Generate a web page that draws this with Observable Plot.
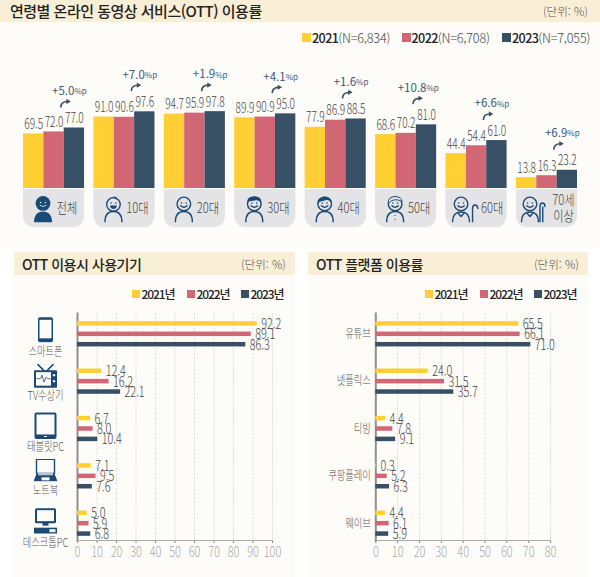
<!DOCTYPE html>
<html lang="ko"><head><meta charset="utf-8">
<script src="https://cdn.jsdelivr.net/npm/d3@7"></script>
<script src="https://cdn.jsdelivr.net/npm/@observablehq/plot@0.6"></script>
<style>
html,body{margin:0;padding:0;background:#fff}
#page{position:relative;width:600px;height:577px;overflow:hidden;font-family:"Noto Sans CJK KR","Noto Sans",sans-serif;color:#222}
.abs{position:absolute;white-space:nowrap}
.panel{background:#fdfcf8}
.band{background:#f9eed6}
.title{font-weight:500;letter-spacing:-.5px;line-height:22px}
.unit{font-size:11.5px;font-weight:300;color:#555;line-height:22px;letter-spacing:0}
.sq{position:absolute}
.lg{line-height:16px;letter-spacing:-.6px;font-weight:500}
.lg span{font-weight:300;color:#444;letter-spacing:-.2px}
svg{position:absolute;left:0;top:0;background:transparent}
</style></head><body><div id="page"></div>
<script>
// ---------- data ----------
const years = ["2021", "2022", "2023"];
const yearColors = ["#ffcf33", "#d16674", "#385065"];
const sampleSizes = ["N=6,834", "N=6,708", "N=7,055"];

const ageGroups = ["전체", "10대", "20대", "30대", "40대", "50대", "60대", "70세\n이상"];
const age2021 = [69.5, 91.0, 94.7, 89.9, 77.9, 68.6, 44.4, 13.8];
const age2022 = [72.0, 90.6, 95.9, 90.9, 86.9, 70.2, 54.4, 16.3];
const age2023 = [77.0, 97.6, 97.8, 95.0, 88.5, 81.0, 61.0, 23.2];
const ageChange = ["+5.0", "+7.0", "+1.9", "+4.1", "+1.6", "+10.8", "+6.6", "+6.9"];

const devices = ["스마트폰", "TV수상기", "태블릿PC", "노트북", "데스크톱PC"];
const device2021 = [92.2, 12.4, 6.7, 7.1, 5.0];
const device2022 = [89.1, 16.2, 8.0, 9.5, 5.9];
const device2023 = [86.3, 22.1, 10.4, 7.6, 6.8];

const platforms = ["유튜브", "넷플릭스", "티빙", "쿠팡플레이", "웨이브"];
const platform2021 = [65.5, 24.0, 4.4, 0.3, 4.4];
const platform2022 = [66.1, 31.5, 7.8, 5.2, 6.1];
const platform2023 = [71.0, 35.7, 9.1, 6.3, 5.9];

// ---------- helpers ----------
const FONT = '"Noto Sans CJK KR","Noto Sans",sans-serif';
const page = document.getElementById("page");
const fmt = d3.format(".1f");
function box(cls, l, t, w, h, html, extra) {
  const e = document.createElement("div");
  e.className = "abs " + cls;
  e.style.cssText = `left:${l}px;top:${t}px;` + (w ? `width:${w}px;` : "") + (h ? `height:${h}px;` : "") + (extra || "");
  if (html) e.innerHTML = html;
  page.appendChild(e);
  return e;
}
// Condensed lettering: the reference's typeface is narrower than any installed font.
function condense(svg, cls, ratio) {
  svg.querySelectorAll(`.${cls} text`).forEach(t => {
    const parts = t.querySelectorAll("tspan");
    (parts.length ? [...parts] : [t]).forEach(el => {
      el.setAttribute("textLength", (el.getComputedTextLength() * ratio).toFixed(2));
      el.setAttribute("lengthAdjust", "spacingAndGlyphs");
    });
  });
}
const uri = (w, h, body) => "data:image/svg+xml," + encodeURIComponent(
  `<svg xmlns="http://www.w3.org/2000/svg" viewBox="0 0 ${w} ${h}" width="${w*4}" height="${h*4}">${body}</svg>`);
const ink = "#1b4a76";
const S = `fill="none" stroke="${ink}" stroke-width="1.4" stroke-linecap="round" stroke-linejoin="round"`;
const torso = `<path d="M1.5 26.5C1.5 19.5 5 16 10 16S18.5 19.5 18.5 26.5" ${S}/>`;
const face = `<circle cx="10" cy="8.5" r="6.8" ${S}/><circle cx="7.6" cy="7.6" r=".8" fill="${ink}"/><circle cx="12.4" cy="7.6" r=".8" fill="${ink}"/><path d="M6.8 10.3Q10 13.2 13.2 10.3" ${S}/>`;
const elder = `<path d="M1.5 26.5C1.5 19.5 5 16.5 10 16.5S18.5 19.5 18.5 26.5M6.5 17L10 21L13.5 17" ${S}/>${face}`;
const personIcons = {
  "전체": uri(20, 27, `<path d="M1 27C1 19.5 4.5 16 10 16S19 19.5 19 27Z" fill="${ink}"/><circle cx="10" cy="8" r="7.4" fill="${ink}"/><circle cx="7.6" cy="7" r=".8" fill="#cfe"/><circle cx="12.4" cy="7" r=".8" fill="#cfe"/><path d="M6.8 9.8Q10 12.4 13.2 9.8" fill="none" stroke="#cfe" stroke-width=".8"/>`),
  "10대": uri(20, 27, torso + `<circle cx="10" cy="9" r="6.8" ${S}/><path d="M10 2.2Q12.5 1 12.5 3.4" ${S}/><circle cx="7.6" cy="7.6" r=".8" fill="${ink}"/><circle cx="12.4" cy="7.6" r=".8" fill="${ink}"/><path d="M6.5 10H13.5Q13 13.5 10 13.5T6.5 10Z" fill="${ink}"/>`),
  "20대": uri(20, 27, torso + face),
  "30대": uri(20, 27, torso + face + `<path d="M3 8C2.5 2 6 1 10 1S17.5 2 17 8C15.5 5 13 4.5 10.5 5C8 5.5 5 5 3 8Z" fill="${ink}"/>`),
  "40대": uri(20, 27, torso + face + `<path d="M3 9C2 3 6 1.2 10 1.2S18 3 17 9C16 5 13 3.5 9 5.2C6 6 4 6 3 9Z" fill="${ink}"/>`),
  "50대": uri(20, 27, torso + face + `<path d="M3.2 8C2.5 3 6 1.2 10 1.2S17 3 16.8 6.5C14 3.8 7 3 3.2 8Z" fill="#e4e4e6" stroke="${ink}" stroke-width="1"/><circle cx="10" cy="20" r=".6" fill="${ink}"/><circle cx="10" cy="24" r=".6" fill="${ink}"/>`),
  "60대": uri(28, 27, elder + `<path d="M21.5 26.5V13Q21.5 9.5 24 9.5T26.8 13" ${S}/>`),
  "70세\n이상": uri(26, 27, elder + `<path d="M20 26.5V11Q20 7.5 22.5 7.5T25 11M22.8 26.5V11.5" ${S}/>`)
};
const solid = `fill="${ink}"`;
const deviceIcons = {
  "스마트폰": {w: 16, h: 26, labelDy: 18, iconDy: -4.5, src: uri(16, 26, `<rect x="0.5" y="0.5" width="15" height="25" rx="2" ${solid}/><rect x="2" y="3" width="12" height="18.5" fill="#fdfcf8"/>`)},
  "TV수상기": {w: 24, h: 25, labelDy: 14.5, iconDy: -6, src: uri(24, 25, `<path d="M4 1L11 8M20 1L13 8" stroke="${ink}" stroke-width="1.5"/><rect x="0.5" y="7" width="23" height="17.5" rx="1" ${solid}/><rect x="2.5" y="9" width="15" height="13.5" fill="#fdfcf8"/><path d="M3 15.5H7L8.5 12L10.5 19L12.5 14L14 15.5H17" fill="none" stroke="${ink}" stroke-width=".8"/><circle cx="20.5" cy="12" r="1.2" fill="#fdfcf8"/><circle cx="20.5" cy="18" r="1.2" fill="#fdfcf8"/>`)},
  "태블릿PC": {w: 23, h: 27, labelDy: 18.5, iconDy: -3.5, src: uri(23, 27, `<rect x="0.5" y="0.5" width="22" height="26.5" rx="2" ${solid}/><rect x="2.5" y="2.5" width="18" height="20" fill="#fdfcf8"/><rect x="10" y="24" width="3" height="1" fill="#fdfcf8"/>`)},
  "노트북": {w: 24, h: 23, labelDy: 14.5, iconDy: -6, src: uri(24, 23, `<rect x="3" y="0.5" width="18" height="14" ${S}/><path d="M3 15H21L24 22.5H0Z" ${solid}/><rect x="4.5" y="14" width="15" height="2.5" fill="#b9c4cf"/><rect x="8" y="18.5" width="8" height="3" fill="#fdfcf8"/>`)},
  "데스크톱PC": {w: 24, h: 26, labelDy: 19, iconDy: -3, src: uri(24, 26, `<rect x="1.5" y="0.5" width="21" height="15" rx="1.5" ${solid}/><rect x="3.5" y="2.5" width="17" height="11" fill="#fdfcf8"/><rect x="9" y="15" width="6" height="3" ${solid}/><rect x="0.5" y="20" width="23" height="6" ${solid}/><rect x="16" y="21.5" width="6" height="3" fill="#fdfcf8"/>`)}
};
const iconOffsets = {"60대": [-11.5, 15.5, 28], "70세\n이상": [-14, 16.5, 26]};
const arrowIcon = uri(12, 10, `<path d="M1.5 9.5C1.5 5 4 3.5 8 3.5" fill="none" stroke="#385065" stroke-width="1.6"/><path d="M7 0.8L11.5 3.4L7 6Z" fill="#385065"/>`);

// ---------- static frame ----------
box("panel", 0, 22, 600, 226);
box("panel", 14, 252, 281, 325);
box("panel", 308, 252, 280, 325);
box("band", 0, 0, 600, 22);
box("band", 14, 252, 281, 23);
box("band", 308, 252, 280, 23);
box("title", 10, 0, 0, 22, "연령별 온라인 동영상 서비스(OTT) 이용률", "font-size:15px;");
box("unit", 543, 0, 0, 22, "(단위: %)");
box("title", 22, 253, 0, 22, "OTT 이용시 사용기기", "font-size:14px;");
box("unit", 241, 253, 0, 22, "(단위: %)");
box("title", 316, 253, 0, 22, "OTT 플랫폼 이용률", "font-size:14px;");
box("unit", 534, 253, 0, 22, "(단위: %)");

[302, 401.5, 502].forEach((x, i) => {
  box("sq", x, 33, 9, 9, "", `background:${yearColors[i]};`);
  box("lg", x + 10, 30, 0, 16, `${years[i]}<span>(${sampleSizes[i]})</span>`, "font-size:12.6px;");
});
[0, 293].forEach(off => [132, 187, 241].forEach((x, i) => {
  box("sq", x + off, 290, 8, 8, "", `background:${yearColors[i]};`);
  box("lg", x + off + 9.5, 286, 0, 16, years[i] + "년", "font-size:12px;letter-spacing:-1.1px;");
}));

// ---------- top chart ----------
const ageRows = years.flatMap((year, j) => ageGroups.map((group, i) =>
  ({group, year, value: [age2021, age2022, age2023][j][i], change: ageChange[i]})));
const boxes = ageGroups.map(group => ({group}));
const last = ageRows.filter(d => d.year === "2023");
const topChart = Plot.plot({
  width: 600, height: 240, marginLeft: 23, marginRight: 23, marginTop: 0, marginBottom: 0,
  style: {fontFamily: FONT, background: "transparent", overflow: "visible"},
  fx: {domain: ageGroups, paddingInner: .133, paddingOuter: 0, round: false, axis: null},
  x: {domain: years, padding: 0, round: false, axis: null},
  y: {domain: [-50, 239], range: [227.3, 0.2], axis: null},
  color: {domain: years, range: yearColors},
  marks: [
    Plot.rect(boxes, {fx: "group", y1: -1.5, y2: -50, fill: "#e4e4e6", rx: 11}),
    Plot.rect(boxes, {fx: "group", y1: -1.5, y2: -25, fill: "#e4e4e6"}),
    Plot.barY(ageRows, {fx: "group", x: "year", y: "value", fill: "year"}),
    Plot.text(ageRows, {fx: "group", x: "year", y: "value", text: d => fmt(d.value), dy: -9.5, fontSize: 14, fontWeight: 300, className: "num", fill: "#444"}),
    Plot.image(last, {fx: "group", x: "year", y: "value", src: () => arrowIcon, width: 12, height: 10, dx: -9, dy: -25}),
    Plot.text(last, {fx: "group", x: "year", y: "value", text: "change", textAnchor: "end", dy: -37, dx: 0, fontSize: 11.5, fontWeight: 400, fill: "#3c5a78"}),
    Plot.text(last, {fx: "group", x: "year", y: "value", text: () => "%p", textAnchor: "start", dy: -36.5, dx: 0, fontSize: 8, fontWeight: 400, fill: "#3c5a78"}),
    ...ageGroups.flatMap(group => {
      const [ix, tx, w] = iconOffsets[group] || [-11, 13, 20];
      const one = [{group}];
      return [
        Plot.image(one, {fx: "group", frameAnchor: "middle", y: () => -26, src: () => personIcons[group], width: w, height: 27, dx: ix}),
        Plot.text(one, {fx: "group", frameAnchor: "middle", y: () => -25, text: "group", dx: tx, fontSize: 14, fontWeight: 300, fill: "#444", lineHeight: 1.1, className: "age"})
      ];
    })
  ]
});
page.appendChild(topChart);
condense(topChart, "num", .72);
condense(topChart, "age", .8);

// ---------- bottom charts ----------
function hbars(cats, series, maxX, left, right, extra) {
  const rows = years.flatMap((year, j) => cats.map((cat, i) => ({cat, year, value: series[j][i]})));
  const shift = {"2021": -10.4, "2022": 0, "2023": 10.4};
  const chart = Plot.plot({
    width: 600, height: 577, marginLeft: left, marginRight: 600 - right, marginTop: 313, marginBottom: 37,
    style: {fontFamily: FONT, background: "transparent", overflow: "visible"},
    x: {domain: [0, maxX], axis: null},
    y: {domain: cats, paddingInner: .905, paddingOuter: .35, align: .56, round: false, axis: null},
    color: {domain: years, range: yearColors},
    marks: [
      Plot.gridX({ticks: d3.range(10, maxX + 1, 10), stroke: "#cfcfcf", strokeOpacity: 1, strokeWidth: 1, strokeDasharray: "1,1.5"}),
      Plot.axisX({ticks: d3.range(0, maxX + 1, 10), tickSize: 3, tickPadding: 4, label: null, anchor: "bottom", color: "#a9a9a9", stroke: "#888", fontSize: 14, fontWeight: 300, className: "tick"}),
      Plot.frame({anchor: "bottom", stroke: "#aaa", strokeWidth: 1}),
      Plot.frame({anchor: "left", stroke: "#8f8f8f", strokeWidth: 2}),
      ...years.flatMap(year => {
        const data = rows.filter(d => d.year === year);
        return [
          Plot.barX(data, {x: "value", y: "cat", fill: "year", dy: shift[year]}),
          Plot.text(data, {x: "value", y: "cat", text: d => fmt(d.value), textAnchor: "start", dx: 4, dy: shift[year] + .5, fontSize: 14, fontWeight: 300, className: "num", fill: "#444"})
        ];
      }),
      ...extra
    ]
  });
  page.appendChild(chart);
  condense(chart, "num", .77);
  condense(chart, "tick", .78);
  condense(chart, "kor", .77);
}
const iconX = -32;
const deviceExtras = devices.flatMap(cat => {
  const s = deviceIcons[cat], one = [{cat}];
  return [
    Plot.image(one, {frameAnchor: "left", y: "cat", src: () => s.src, width: s.w, height: s.h, dx: iconX, dy: s.iconDy}),
    Plot.text(one, {frameAnchor: "left", y: "cat", text: "cat", textAnchor: "middle", dx: iconX, dy: s.labelDy, fontSize: 12, fontWeight: 300, fill: "#555", className: "kor"})
  ];
});
hbars(devices, [device2021, device2022, device2023], 100, 77, 272, deviceExtras);
hbars(platforms, [platform2021, platform2022, platform2023], 80, 375.3, 550, [
  Plot.text(platforms, {frameAnchor: "left", y: d => d, text: d => d, textAnchor: "end", dx: -5, fontSize: 12, fontWeight: 300, fill: "#555", className: "kor"})
]);
</script></body></html>
